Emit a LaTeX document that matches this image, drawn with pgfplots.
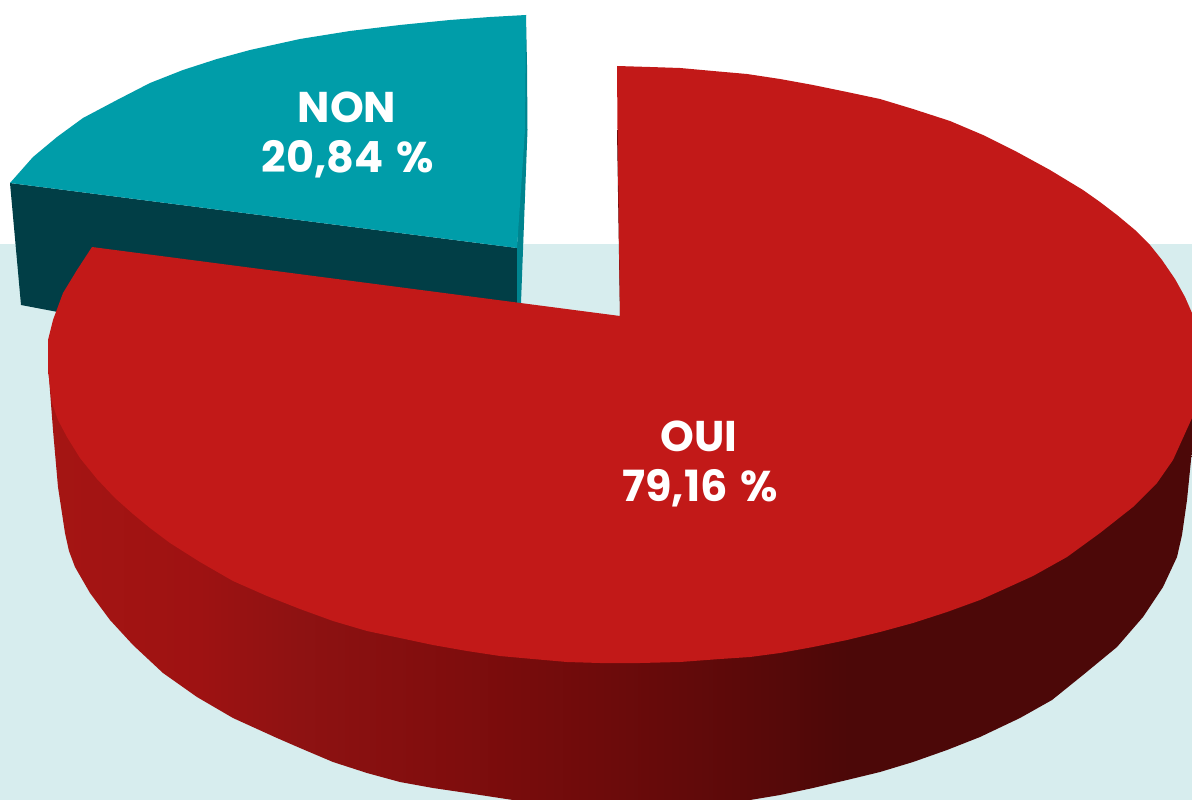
\documentclass[border=0pt]{standalone}
\usepackage{pgfplots}
\pgfplotsset{compat=1.18}
\usepackage{fontspec}
\setmainfont{Poppins}[UprightFont=*-SemiBold,BoldFont=*-Bold]
\definecolor{bgpale}{HTML}{D7EDEE}
\definecolor{tealtop}{HTML}{009DA9}
\definecolor{tealdark}{HTML}{013E46}
\definecolor{tealin}{HTML}{00848F}
\definecolor{redtop}{HTML}{C21918}
\definecolor{redin}{HTML}{4C0808}
\pgfdeclarehorizontalshading{redside}{100bp}{
 color(0bp)=(rgb,255:red,165;green,21;blue,19);
 color(25bp)=(rgb,255:red,165;green,21;blue,19);
 color(31.6bp)=(rgb,255:red,158;green,18;blue,18);
 color(36bp)=(rgb,255:red,142;green,18;blue,18);
 color(42.6bp)=(rgb,255:red,128;green,13;blue,13);
 color(49.1bp)=(rgb,255:red,110;green,11;blue,11);
 color(55.7bp)=(rgb,255:red,90;green,9;blue,9);
 color(60bp)=(rgb,255:red,76;green,8;blue,8);
 color(100bp)=(rgb,255:red,76;green,8;blue,8)}
\begin{document}
\begin{tikzpicture}
\begin{axis}[
  scale only axis, width=1192pt, height=800pt,
  xmin=0, xmax=1192, ymin=0, ymax=800, y dir=reverse,
  hide axis, clip=true]
% page
\addplot[fill=white, draw=none, mark=none] coordinates {(0,0) (1192,0) (1192,800) (0,800)} --cycle;
% background band
\addplot[fill=bgpale, draw=none, mark=none] coordinates {(0,244) (1192,244) (1192,800) (0,800)} --cycle;
% teal slice: outer wall
\addplot[fill=tealdark, draw=none, mark=none] coordinates {(10,183) (517,248) (520,304) (100,320) (21,305)} --cycle;
% teal slice: cut wall sliver
\addplot[fill=tealin, draw=none, mark=none] coordinates {(526,15) (527,65) (527.5,130) (521,303) (517,303) (517,248)} --cycle;
% teal slice: top
\addplot[fill=tealtop, draw=none, mark=none] coordinates {
 (10,183) (33,157) (57,137) (83,118) (117,100) (150,83) (183,70) (217,59) (250,50) (300,39) (350,31) (400,25) (450,20) (490,17) (526,15) (525,130) (517,248)} --cycle;
% red slice: side wall
\addplot[shading=redside, draw=none, mark=none] coordinates {
 (48,365) (53,430) (58,487) (65,533) (69,551) (75,567) (90,593) (110,620) (133,645) (163,673) (197,697) (233,718) (277,738) (300,748) (333,762) (367,773) (400,782) (433,788) (467,793) (513,800) (570,806) (640,808) (700,805) (750,800) (780,795) (813,788) (847,780) (880,772) (913,762) (947,750) (980,737) (1020,718) (1052,700) (1083,675) (1117,647) (1143,617) (1163,587) (1177,557) (1182,535) (1187,500) (1192,450) (1192,360) (600,360)} --cycle;
% red slice: cut wall sliver
\addplot[fill=redin, draw=none, mark=none] coordinates {(617,130) (618.5,130) (623,317) (620,317)} --cycle;
% red slice: top
\addplot[fill=redtop, draw=none, mark=none] coordinates {
 (92,247) (620,316) (617.5,130) (617,66) (650,67) (680,68) (713,71) (747,74) (780,79) (813,85) (847,92) (880,99) (913,109) (950,121) (983,135) (1017,152) (1050,170) (1083,190) (1100,202) (1117,215) (1135,230) (1150,245) (1162,260) (1175,279) (1185,297) (1192,313) (1199,340) (1201,365) (1199,390) (1192,418) (1173,460) (1157,483) (1133,507) (1100,533) (1067,557) (1033,576) (1000,591) (980,600) (947,612) (913,623) (880,632) (847,640) (813,647) (780,653) (750,657) (720,659) (680,662) (640,663) (600,663) (567,662) (533,659) (500,656) (467,651) (433,645) (400,638) (367,631) (333,621) (300,609) (267,596) (233,581) (200,562) (170,543) (150,528) (133,514) (115,498) (97,479) (80,458) (67,437) (58,420) (52,403) (48,370) (48,340) (53,320) (63,293) (77,270)} --cycle;
% labels
\node[anchor=base, text=white, font=\fontsize{43}{43}\selectfont\bfseries] at (axis cs:347,122) {NON};
\node[anchor=base, text=white, font=\fontsize{43}{43}\selectfont\bfseries] at (axis cs:347.5,172) {20,84\hspace{0.08em} \%};
\node[anchor=base, text=white, font=\fontsize{43}{43}\selectfont\bfseries] at (axis cs:699,451) {OUI};
\node[anchor=base, text=white, font=\fontsize{43}{43}\selectfont\bfseries] at (axis cs:700,501) {79,16\hspace{0.08em} \%};
\end{axis}
\end{tikzpicture}
\end{document}
